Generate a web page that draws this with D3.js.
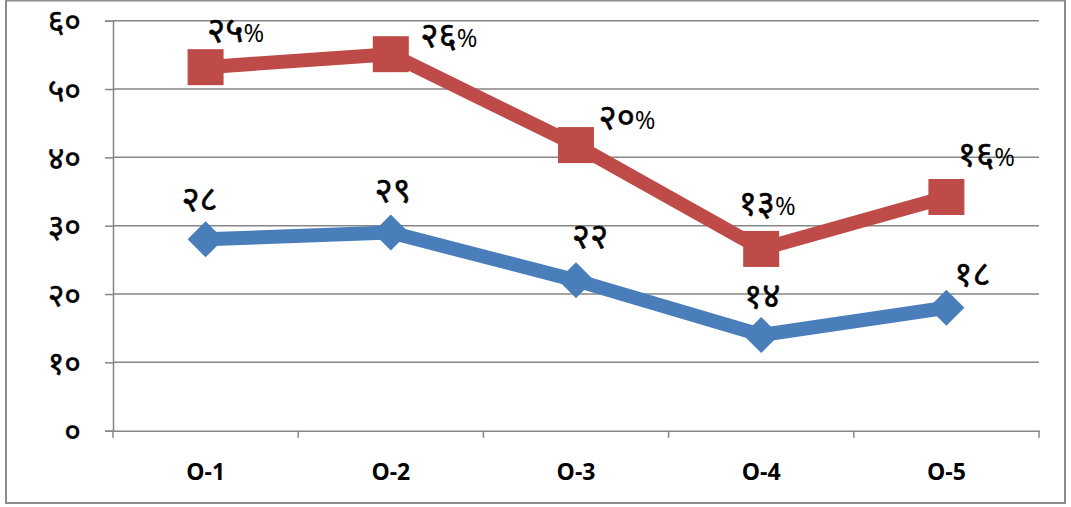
<!DOCTYPE html>
<html><head><meta charset="utf-8">
<script src="https://cdn.jsdelivr.net/npm/d3@7/dist/d3.min.js"></script>
<style>body{margin:0;background:#fff;} svg{display:block;}</style>
</head><body>
<svg id="c" width="1071" height="507"></svg>
<script>
const categories = ["O-1","O-2","O-3","O-4","O-5"];
const seriesA = [28, 29, 22, 14, 18];
const seriesALabels = ["२८","२९","२२","१४","१८"];
const seriesB = [53.2, 55.1, 41.8, 26.6, 34.2];
const seriesBLabels = ["२५","२६","२०","१३","१६"];
const yTicks = [0,10,20,30,40,50,60];
const yTickLabels = ["०","१०","२०","३०","४०","५०","६०"];
// manual label offsets (layout)
const offA = [[-6,-41],[2,-43],[14,-45],[1,-39],[26,-34]];
const offB = [[30,-37],[58,-19],[51,-28],[6,-46],[40,-43]];

const svg = d3.select("#c");
const m={l:113,r:1039,t:20.7,b:430.7};
svg.append("rect").attr("x",6).attr("y",0.5).attr("width",1059).attr("height",502.5)
  .attr("fill","#fff").attr("stroke","#8c8c8c").attr("stroke-width",2);

const x = d3.scaleBand().domain(categories).range([m.l,m.r]).padding(0);
const y = d3.scaleLinear().domain([0,60]).range([m.b,m.t]);
const cx = d => x(d)+x.bandwidth()/2;
const lf = "'Kalimati','Noto Sans Devanagari','Lohit Devanagari','Lohit Nepali','FreeSans','Noto Sans',sans-serif";

svg.append("g").selectAll("line").data(yTicks.filter(d=>d>0)).join("line")
  .attr("x1",m.l).attr("x2",m.r).attr("y1",d=>y(d)).attr("y2",d=>y(d))
  .attr("stroke","#868686").attr("stroke-width",1.5);

const ya = svg.append("g").attr("transform",`translate(${m.l},0)`)
  .call(d3.axisLeft(y).tickValues(yTicks).tickSize(8).tickFormat((d,i)=>yTickLabels[i]));
ya.select(".domain").attr("stroke","#868686").attr("stroke-width",1.5);
ya.selectAll(".tick line").attr("stroke","#868686").attr("stroke-width",1.5);
ya.selectAll(".tick text").attr("x",-32).attr("dy","0.35em")
  .style("font-family",lf).style("font-size","32px").attr("fill","#000")
  .attr("stroke","#000").attr("stroke-width",0.5);

const xa = svg.append("g").attr("transform",`translate(0,${m.b})`)
  .call(d3.axisBottom(x).tickSize(0).tickPadding(33));
xa.select(".domain").attr("stroke","#868686").attr("stroke-width",1.5);
xa.selectAll(".tick text").style("font-family","'Open Sans',sans-serif").style("font-weight","bold").style("font-size","23px").attr("fill","#000");
const bounds = categories.map(c=>x(c)).concat([m.r]);
svg.append("g").selectAll("line").data(bounds).join("line")
  .attr("x1",d=>d).attr("x2",d=>d).attr("y1",m.b).attr("y2",m.b+7)
  .attr("stroke","#868686").attr("stroke-width",1.5);

const line = d3.line().x((d,i)=>cx(categories[i])).y(d=>y(d));
svg.append("path").datum(seriesA).attr("d",line).attr("fill","none")
  .attr("stroke","#4A7EBB").attr("stroke-width",14).attr("stroke-linejoin","round");
svg.append("g").selectAll("path").data(seriesA).join("path")
  .attr("d","M0,-18L18,0L0,18L-18,0Z").attr("fill","#4A7EBB")
  .attr("transform",(d,i)=>`translate(${cx(categories[i])},${y(d)})`);
svg.append("path").datum(seriesB).attr("d",line).attr("fill","none")
  .attr("stroke","#BE4B48").attr("stroke-width",14).attr("stroke-linejoin","round");
svg.append("g").selectAll("rect").data(seriesB).join("rect")
  .attr("x",(d,i)=>cx(categories[i])-18).attr("y",d=>y(d)-18).attr("width",36).attr("height",36)
  .attr("fill","#BE4B48");

svg.append("g").selectAll("text").data(seriesA).join("text")
  .attr("x",(d,i)=>cx(categories[i])+offA[i][0]).attr("y",(d,i)=>y(d)+offA[i][1])
  .attr("text-anchor","middle").attr("dy","0.35em").style("font-family",lf).style("font-size","35px")
  .attr("stroke","#000").attr("stroke-width",0.5)
  .text((d,i)=>seriesALabels[i]);
const tb = svg.append("g").selectAll("text").data(seriesB).join("text")
  .attr("x",(d,i)=>cx(categories[i])+offB[i][0]).attr("y",(d,i)=>y(d)+offB[i][1])
  .attr("text-anchor","middle").attr("dy","0.35em").style("font-family",lf).style("font-size","35px")
  .attr("stroke","#000").attr("stroke-width",0.5);
tb.append("tspan").text((d,i)=>seriesBLabels[i]);
tb.append("tspan").style("font-family","'Open Sans',sans-serif").style("font-size","25px").attr("stroke-width",0).text("%");
</script>
</body></html>
